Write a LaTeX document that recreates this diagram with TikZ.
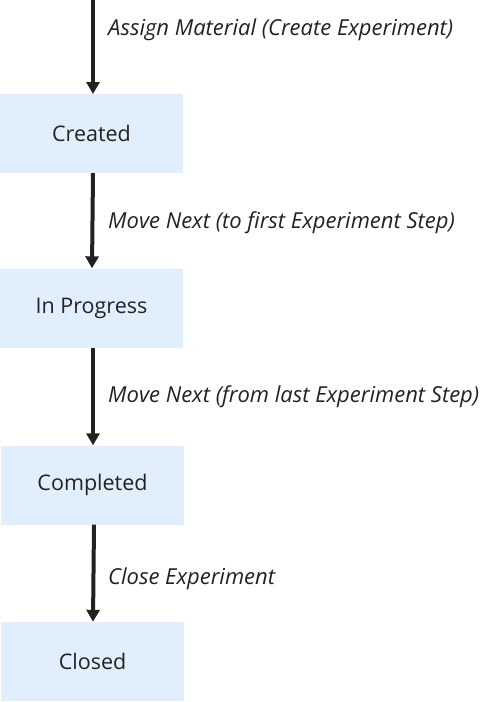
\documentclass[tikz,border=0pt]{standalone}
\usepackage{fontspec}
\setmainfont{Open Sans}
\usetikzlibrary{arrows.meta}
\definecolor{statefill}{HTML}{E1EEFC}
\definecolor{arrowcol}{HTML}{222222}
\begin{document}
\begin{tikzpicture}[x=1pt,y=-1pt,
  state/.style={fill=statefill,minimum width=183pt,minimum height=79pt,inner sep=0pt,text=arrowcol,font=\fontsize{21.5}{24}\selectfont},
  trans/.style={arrowcol,line width=4pt,-{Triangle[width=13pt,length=12pt]}},
  lab/.style={anchor=west,inner sep=0pt,text=arrowcol,font=\fontsize{22}{26}\selectfont\itshape}]
  \useasboundingbox (0,0) rectangle (496,702);
  \coordinate (start) at (93,0);
  \node[state] (created) at (91.5,133.5){Created};
  \node[state] (progress) at (91.5,308){In Progress};
  \node[state] (completed) at (92.5,485){Completed};
  \node[state] (closed) at (92.5,661.5){Closed};
  \draw[trans] (start) -- (93,94);
  \foreach \a/\b in {created/progress,progress/completed,completed/closed}{
    \draw[trans] ([xshift=1.5pt]\a.south) -- ([xshift=0.5pt]\b.north);
  }
  \node[lab] at (108,30){Assign Material (Create Experiment)};
  \node[lab] at (108,223){Move Next (to first Experiment Step)};
  \node[lab] at (108,397){Move Next (from last Experiment Step)};
  \node[lab] at (108,579){Close Experiment};
\end{tikzpicture}
\end{document}
